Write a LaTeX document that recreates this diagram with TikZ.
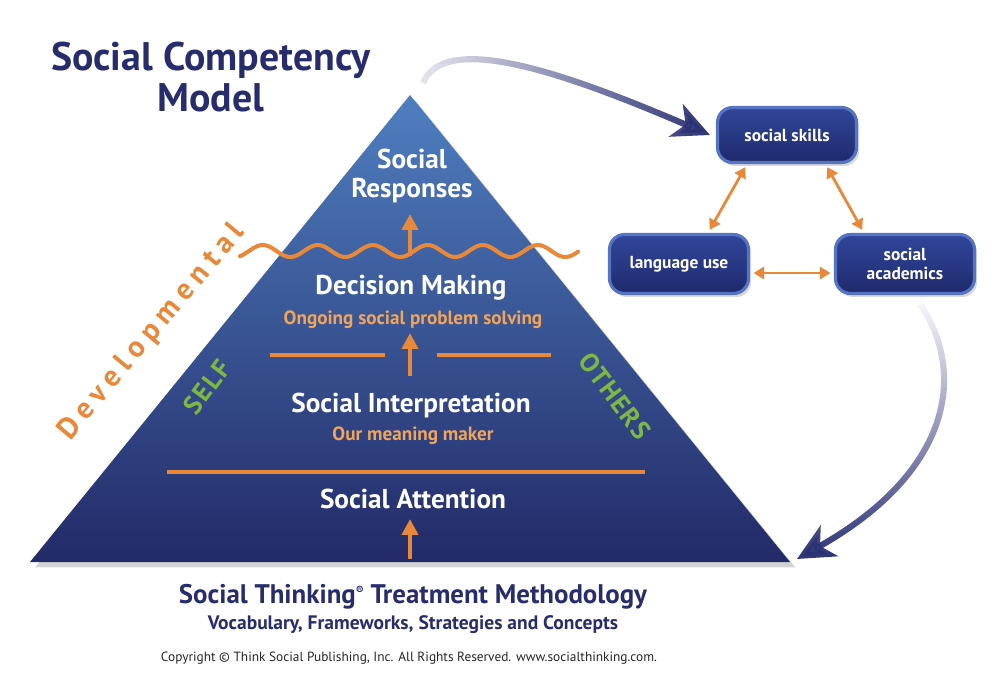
\documentclass[tikz,border=0pt]{standalone}
\usepackage{fontspec}
\setmainfont{PT Sans}
\usepackage{xcolor}
\usetikzlibrary{arrows.meta,positioning,shadows,fadings}

\definecolor{titlenavy}{HTML}{272C6C}
\definecolor{accent}{HTML}{E8883A}
\definecolor{subtext}{HTML}{F0A55A}
\definecolor{selfgreen}{HTML}{7DB843}
\definecolor{pyrtop}{HTML}{4F7FC0}
\definecolor{pyrmid}{HTML}{34549C}
\definecolor{pyrbot}{HTML}{232A68}
\definecolor{boxedge}{HTML}{5575C2}
\definecolor{boxtop}{HTML}{31469B}
\definecolor{boxbot}{HTML}{1F2A6C}
\definecolor{arrownavy}{HTML}{2C3174}

\tikzfading[name=fadeinright, left color=transparent!88, right color=transparent!0]
\tikzfading[name=fadeindown, top color=transparent!97, bottom color=transparent!0]

\begin{document}
\begin{tikzpicture}[
        x=0.02cm, y=-0.02cm,
        heading/.style={text=titlenavy, font=\bfseries\fontsize{22.7}{23}\selectfont, align=center},
        level/.style={text=white, font=\bfseries\fontsize{15.5}{16.5}\selectfont, align=center},
        sub/.style={text=subtext, font=\bfseries\fontsize{10.9}{12}\selectfont},
        side/.style={text=selfgreen, font=\bfseries\fontsize{15}{16}\selectfont\addfontfeature{LetterSpace=6}},
        skillbox/.style={draw=boxedge, line width=1.8pt, rounded corners=0.3cm, top color=boxtop, bottom color=boxbot,
            text=white, font=\bfseries\fontsize{9.9}{11}\selectfont, align=center,
            minimum width=2.78cm, minimum height=1.18cm, drop shadow={opacity=0.3, shadow xshift=1.5pt, shadow yshift=-2pt}},
        pyramid/.style={top color=pyrtop, middle color=pyrmid, bottom color=pyrbot,
            drop shadow={opacity=0.35, shadow xshift=3pt, shadow yshift=-3pt}},
        rule/.style={draw=accent, line width=2.3pt},
        up/.style={-{Triangle[length=9pt,width=9pt]}, draw=accent, line width=2.3pt},
        both/.style={{Triangle[length=6pt,width=7pt]}-{Triangle[length=6pt,width=7pt]}, draw=accent, line width=1.6pt,
            shorten <=2pt, shorten >=2pt},
        bigarrow/.style={-{Stealth[length=21pt,width=20pt,inset=6pt]}, draw=arrownavy, line width=3.5pt}
    ]
    \useasboundingbox (0,0) rectangle (1000,694);

    \coordinate (apex) at (410,95);
    \coordinate (bl) at (30,562);
    \coordinate (br) at (790,562);
    \path[pyramid] (apex) -- (br) -- (bl) -- cycle;

    \node[heading] (title) at (211,77) {Social Competency\\Model};

    \node[level] (resp) at (412,176) {Social\\Responses};
    \node[level] (decide) at (411,288) {Decision Making};
    \node[sub] (ongoing) at (413,320) {Ongoing social problem solving};
    \node[level] (interp) at (411,405) {Social Interpretation};
    \node[sub] (meaning) at (413,436) {Our meaning maker};
    \node[level] (attn) at (413,499) {Social Attention};

    \node[text=accent, font=\bfseries\fontsize{17}{18}\selectfont\addfontfeature{LetterSpace=22}, rotate=50] (dev) at (152,332) {Developmental};
    \node[side, rotate=53] (self) at (207,387) {SELF};
    \node[side, rotate=-53] (others) at (615,396) {OTHERS};

    % wave and level lines
    \draw[rule, line cap=round] plot[domain=240:578, samples=150, smooth] (\x, {251-6*sin((\x-249)/55*360)});
    \draw[rule] (270,355) -- (385,355);
    \draw[rule] (437,355) -- (551,355);
    \draw[rule] (167,472) -- (645,472);

    \coordinate (foot1) at (410,256);
    \coordinate (tip1) at (410,214);
    \coordinate (foot2) at (410,376);
    \coordinate (tip2) at (410,333);
    \coordinate (foot3) at (410,559);
    \coordinate (tip3) at (410,519);
    \draw[up] (foot1) -- (tip1);
    \draw[up] (foot2) -- (tip2);
    \draw[up] (foot3) -- (tip3);

    \node[skillbox, minimum height=1.1cm] (skills) at (787,135) {social skills};
    \node[skillbox] (lang) at (679,264) {language use};
    \node[skillbox] (acad) at (905,264) {social\\academics};

    \draw[both] ([xshift=0.58cm]lang.north) -- ([xshift=-0.8cm]skills.south);
    \draw[both] ([xshift=0.77cm]skills.south) -- ([xshift=-0.82cm]acad.north);
    \draw[both] ([yshift=-0.18cm]lang.east) -- ([yshift=-0.18cm]acad.west);

    \draw[bigarrow, path fading=fadeinright] ([xshift=0.26cm, yshift=0.24cm]apex)
        .. controls (445,30) and (570,75) .. ([xshift=-0.12cm]skills.west);
    \draw[bigarrow, path fading=fadeindown] ([xshift=0.3cm, yshift=-0.18cm]acad.south)
        .. controls (965,370) and (955,470) .. ([xshift=0.14cm, yshift=0.06cm]br);

    \node[text=titlenavy, font=\bfseries\fontsize{15.3}{16}\selectfont] (method) at (413,597)
        {Social Thinking\raisebox{0.7ex}{\fontsize{6.5}{6.5}\selectfont ®} Treatment Methodology};
    \node[text=titlenavy, font=\bfseries\fontsize{11.1}{12}\selectfont, below=-0.12cm of method] (vocab)
        {Vocabulary, Frameworks, Strategies and Concepts};
    \node[text=black!85, font=\fontsize{7.6}{9}\selectfont] (rights) at (409,658)
        {Copyright © Think Social Publishing, Inc. All Rights Reserved. www.socialthinking.com.};
\end{tikzpicture}
\end{document}
